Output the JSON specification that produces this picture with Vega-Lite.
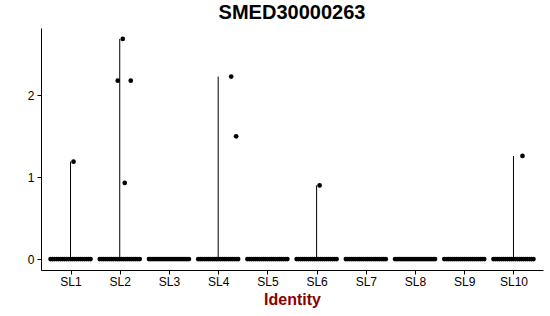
{
"$schema": "https://vega.github.io/schema/vega-lite/v6.json",
"width": 502, "height": 242,
"autosize": {"type": "none"},
"padding": {"left": 41, "top": 28, "right": 7, "bottom": 46},
"background": "white",
"config": {"view": {"stroke": null}, "font": "Liberation Sans"},
"title": {"text": "SMED30000263", "fontSize": 20, "fontWeight": "bold", "font": "Liberation Sans", "color": "black", "anchor": "middle", "frame": "group", "offset": 5},
"data": {"values": [
{"g":"SL1","c":0,"v":0},{"g":"SL1","c":2,"v":0},{"g":"SL1","c":4,"v":0},{"g":"SL1","c":6,"v":0},{"g":"SL1","c":8,"v":0},{"g":"SL1","c":10,"v":0},{"g":"SL1","c":12,"v":0},{"g":"SL1","c":14,"v":0},{"g":"SL1","c":16,"v":0},{"g":"SL1","c":18,"v":0},{"g":"SL1","c":20,"v":0},{"g":"SL1","c":22,"v":0},{"g":"SL1","c":24,"v":0},{"g":"SL1","c":26,"v":0},{"g":"SL1","c":28,"v":0},{"g":"SL1","c":30,"v":0},{"g":"SL1","c":32,"v":0},{"g":"SL1","c":34,"v":0},{"g":"SL1","c":36,"v":0},{"g":"SL1","c":38,"v":0},{"g":"SL1","c":40,"v":0},
{"g":"SL2","c":0,"v":0},{"g":"SL2","c":2,"v":0},{"g":"SL2","c":4,"v":0},{"g":"SL2","c":6,"v":0},{"g":"SL2","c":8,"v":0},{"g":"SL2","c":10,"v":0},{"g":"SL2","c":12,"v":0},{"g":"SL2","c":14,"v":0},{"g":"SL2","c":16,"v":0},{"g":"SL2","c":18,"v":0},{"g":"SL2","c":20,"v":0},{"g":"SL2","c":22,"v":0},{"g":"SL2","c":24,"v":0},{"g":"SL2","c":26,"v":0},{"g":"SL2","c":28,"v":0},{"g":"SL2","c":30,"v":0},{"g":"SL2","c":32,"v":0},{"g":"SL2","c":34,"v":0},{"g":"SL2","c":36,"v":0},{"g":"SL2","c":38,"v":0},{"g":"SL2","c":40,"v":0},
{"g":"SL3","c":0,"v":0},{"g":"SL3","c":2,"v":0},{"g":"SL3","c":4,"v":0},{"g":"SL3","c":6,"v":0},{"g":"SL3","c":8,"v":0},{"g":"SL3","c":10,"v":0},{"g":"SL3","c":12,"v":0},{"g":"SL3","c":14,"v":0},{"g":"SL3","c":16,"v":0},{"g":"SL3","c":18,"v":0},{"g":"SL3","c":20,"v":0},{"g":"SL3","c":22,"v":0},{"g":"SL3","c":24,"v":0},{"g":"SL3","c":26,"v":0},{"g":"SL3","c":28,"v":0},{"g":"SL3","c":30,"v":0},{"g":"SL3","c":32,"v":0},{"g":"SL3","c":34,"v":0},{"g":"SL3","c":36,"v":0},{"g":"SL3","c":38,"v":0},{"g":"SL3","c":40,"v":0},
{"g":"SL4","c":0,"v":0},{"g":"SL4","c":2,"v":0},{"g":"SL4","c":4,"v":0},{"g":"SL4","c":6,"v":0},{"g":"SL4","c":8,"v":0},{"g":"SL4","c":10,"v":0},{"g":"SL4","c":12,"v":0},{"g":"SL4","c":14,"v":0},{"g":"SL4","c":16,"v":0},{"g":"SL4","c":18,"v":0},{"g":"SL4","c":20,"v":0},{"g":"SL4","c":22,"v":0},{"g":"SL4","c":24,"v":0},{"g":"SL4","c":26,"v":0},{"g":"SL4","c":28,"v":0},{"g":"SL4","c":30,"v":0},{"g":"SL4","c":32,"v":0},{"g":"SL4","c":34,"v":0},{"g":"SL4","c":36,"v":0},{"g":"SL4","c":38,"v":0},{"g":"SL4","c":40,"v":0},
{"g":"SL5","c":0,"v":0},{"g":"SL5","c":2,"v":0},{"g":"SL5","c":4,"v":0},{"g":"SL5","c":6,"v":0},{"g":"SL5","c":8,"v":0},{"g":"SL5","c":10,"v":0},{"g":"SL5","c":12,"v":0},{"g":"SL5","c":14,"v":0},{"g":"SL5","c":16,"v":0},{"g":"SL5","c":18,"v":0},{"g":"SL5","c":20,"v":0},{"g":"SL5","c":22,"v":0},{"g":"SL5","c":24,"v":0},{"g":"SL5","c":26,"v":0},{"g":"SL5","c":28,"v":0},{"g":"SL5","c":30,"v":0},{"g":"SL5","c":32,"v":0},{"g":"SL5","c":34,"v":0},{"g":"SL5","c":36,"v":0},{"g":"SL5","c":38,"v":0},{"g":"SL5","c":40,"v":0},
{"g":"SL6","c":0,"v":0},{"g":"SL6","c":2,"v":0},{"g":"SL6","c":4,"v":0},{"g":"SL6","c":6,"v":0},{"g":"SL6","c":8,"v":0},{"g":"SL6","c":10,"v":0},{"g":"SL6","c":12,"v":0},{"g":"SL6","c":14,"v":0},{"g":"SL6","c":16,"v":0},{"g":"SL6","c":18,"v":0},{"g":"SL6","c":20,"v":0},{"g":"SL6","c":22,"v":0},{"g":"SL6","c":24,"v":0},{"g":"SL6","c":26,"v":0},{"g":"SL6","c":28,"v":0},{"g":"SL6","c":30,"v":0},{"g":"SL6","c":32,"v":0},{"g":"SL6","c":34,"v":0},{"g":"SL6","c":36,"v":0},{"g":"SL6","c":38,"v":0},{"g":"SL6","c":40,"v":0},
{"g":"SL7","c":0,"v":0},{"g":"SL7","c":2,"v":0},{"g":"SL7","c":4,"v":0},{"g":"SL7","c":6,"v":0},{"g":"SL7","c":8,"v":0},{"g":"SL7","c":10,"v":0},{"g":"SL7","c":12,"v":0},{"g":"SL7","c":14,"v":0},{"g":"SL7","c":16,"v":0},{"g":"SL7","c":18,"v":0},{"g":"SL7","c":20,"v":0},{"g":"SL7","c":22,"v":0},{"g":"SL7","c":24,"v":0},{"g":"SL7","c":26,"v":0},{"g":"SL7","c":28,"v":0},{"g":"SL7","c":30,"v":0},{"g":"SL7","c":32,"v":0},{"g":"SL7","c":34,"v":0},{"g":"SL7","c":36,"v":0},{"g":"SL7","c":38,"v":0},{"g":"SL7","c":40,"v":0},
{"g":"SL8","c":0,"v":0},{"g":"SL8","c":2,"v":0},{"g":"SL8","c":4,"v":0},{"g":"SL8","c":6,"v":0},{"g":"SL8","c":8,"v":0},{"g":"SL8","c":10,"v":0},{"g":"SL8","c":12,"v":0},{"g":"SL8","c":14,"v":0},{"g":"SL8","c":16,"v":0},{"g":"SL8","c":18,"v":0},{"g":"SL8","c":20,"v":0},{"g":"SL8","c":22,"v":0},{"g":"SL8","c":24,"v":0},{"g":"SL8","c":26,"v":0},{"g":"SL8","c":28,"v":0},{"g":"SL8","c":30,"v":0},{"g":"SL8","c":32,"v":0},{"g":"SL8","c":34,"v":0},{"g":"SL8","c":36,"v":0},{"g":"SL8","c":38,"v":0},{"g":"SL8","c":40,"v":0},
{"g":"SL9","c":0,"v":0},{"g":"SL9","c":2,"v":0},{"g":"SL9","c":4,"v":0},{"g":"SL9","c":6,"v":0},{"g":"SL9","c":8,"v":0},{"g":"SL9","c":10,"v":0},{"g":"SL9","c":12,"v":0},{"g":"SL9","c":14,"v":0},{"g":"SL9","c":16,"v":0},{"g":"SL9","c":18,"v":0},{"g":"SL9","c":20,"v":0},{"g":"SL9","c":22,"v":0},{"g":"SL9","c":24,"v":0},{"g":"SL9","c":26,"v":0},{"g":"SL9","c":28,"v":0},{"g":"SL9","c":30,"v":0},{"g":"SL9","c":32,"v":0},{"g":"SL9","c":34,"v":0},{"g":"SL9","c":36,"v":0},{"g":"SL9","c":38,"v":0},{"g":"SL9","c":40,"v":0},
{"g":"SL10","c":0,"v":0},{"g":"SL10","c":2,"v":0},{"g":"SL10","c":4,"v":0},{"g":"SL10","c":6,"v":0},{"g":"SL10","c":8,"v":0},{"g":"SL10","c":10,"v":0},{"g":"SL10","c":12,"v":0},{"g":"SL10","c":14,"v":0},{"g":"SL10","c":16,"v":0},{"g":"SL10","c":18,"v":0},{"g":"SL10","c":20,"v":0},{"g":"SL10","c":22,"v":0},{"g":"SL10","c":24,"v":0},{"g":"SL10","c":26,"v":0},{"g":"SL10","c":28,"v":0},{"g":"SL10","c":30,"v":0},{"g":"SL10","c":32,"v":0},{"g":"SL10","c":34,"v":0},{"g":"SL10","c":36,"v":0},{"g":"SL10","c":38,"v":0},{"g":"SL10","c":40,"v":0},
{"g":"SL1","c":23,"v":1.19},
{"g":"SL2","c":23,"v":2.69},{"g":"SL2","c":18,"v":2.18},{"g":"SL2","c":31,"v":2.18},{"g":"SL2","c":25,"v":0.93},
{"g":"SL4","c":33,"v":2.23},{"g":"SL4","c":38,"v":1.5},
{"g":"SL6","c":23,"v":0.9},
{"g":"SL10","c":29,"v":1.26}
]},
"encoding": {
  "x": {"field": "g", "type": "nominal", "sort": ["SL1","SL2","SL3","SL4","SL5","SL6","SL7","SL8","SL9","SL10"],
        "scale": {"type": "point", "padding": 0.6},
        "axis": {"title": "Identity", "labelAngle": 0, "labelFontSize": 12, "labelColor": "black", "labelFont": "Liberation Sans", "labelPadding": 2,
                 "domainColor": "black", "tickColor": "black", "tickSize": 4, "grid": false,
                 "titleFontSize": 16, "titleFontWeight": "bold", "titleColor": "#8B0000", "titleFont": "Liberation Sans", "titlePadding": 4}}
},
"layer": [
  {"mark": {"type": "rule", "color": "black", "strokeWidth": 1},
   "encoding": {
     "y": {"aggregate": "max", "field": "v", "type": "quantitative",
           "scale": {"domain": [-0.134, 2.824], "nice": false, "zero": false},
           "axis": {"title": null, "values": [0, 1, 2], "format": "d", "grid": false, "labelFontSize": 12, "labelColor": "black", "labelFont": "Liberation Sans",
                    "domainColor": "black", "tickColor": "black", "tickSize": 4, "labelPadding": 3}},
     "y2": {"datum": 0}
   }},
  {"mark": {"type": "circle", "color": "black", "opacity": 1, "size": 22},
   "encoding": {
     "xOffset": {"field": "c", "type": "quantitative", "scale": {"domain": [0, 40], "range": [-20, 20]}},
     "y": {"field": "v", "type": "quantitative"}
   }}
]
}
